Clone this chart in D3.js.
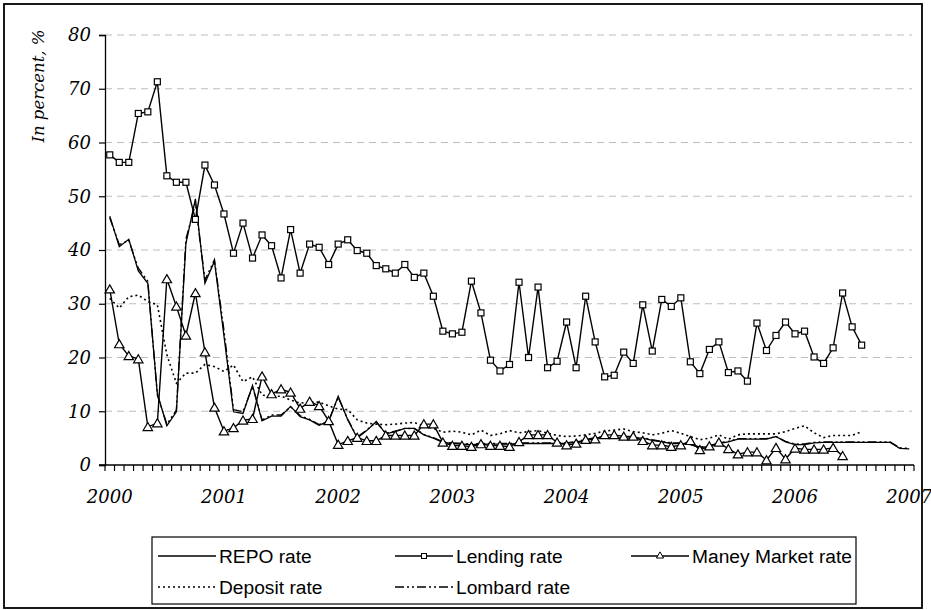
<!DOCTYPE html>
<html>
<head>
<meta charset="utf-8">
<script src="https://cdn.jsdelivr.net/npm/d3@7"></script>
<style>
  html, body { margin: 0; padding: 0; background: #fff; }
  svg { display: block; }
</style>
</head>
<body>
<svg id="chart" width="931" height="610"></svg>
<script>
// ---------------- DATA ----------------
const yearLabels = ["2000", "2001", "2002", "2003", "2004", "2005", "2006", "2007"];
const yTicks = [0, 10, 20, 30, 40, 50, 60, 70, 80];
// monthly categories Jan 2000 .. Jan 2007
const months = d3.timeMonth.range(new Date(2000, 0, 1), new Date(2007, 1, 1)).map(d3.timeFormat("%Y-%m"));

const repoRate = [46.3, 40.6, 42.0, 36.1, 33.8, 13.3, 7.3, 9.9, 41.2, 49.5, 33.8, 37.9,
  24.0, 9.9, 9.6, 14.8, 8.2, 9.1, 9.1, 10.9, 9.0, 8.4, 7.4, 8.1,
  12.8, 8.4, 5.0, 6.4, 8.1, 5.8, 6.2, 6.8, 6.8, 5.6, 5.0, 4.2,
  4.0, 3.9, 3.8, 3.9, 3.9, 3.9, 3.9, 4.0, 4.0, 4.0, 4.0, 4.0,
  4.0, 4.3, 4.6, 5.0, 5.0, 5.0, 5.0, 5.0, 5.0, 4.6, 4.3, 4.0,
  4.0, 3.8, 3.2, 3.5, 4.0, 4.3, 4.8, 4.8, 4.8, 4.8, 5.3, 4.3,
  3.8, 3.8, 4.1, 4.2, 4.2, 4.2, 4.2, 4.2, 4.2, 4.2, 4.2, 3.1,
  3.0];

const lendingRate = [57.7, 56.3, 56.3, 65.4, 65.7, 71.3, 53.8, 52.6, 52.6, 45.7, 55.8, 52.1,
  46.7, 39.4, 45.0, 38.5, 42.8, 40.8, 34.8, 43.8, 35.7, 41.1, 40.5, 37.3,
  41.1, 41.9, 39.9, 39.4, 37.1, 36.5, 35.7, 37.3, 34.9, 35.7, 31.4, 24.9,
  24.4, 24.7, 34.2, 28.3, 19.5, 17.5, 18.7, 34.0, 20.0, 33.1, 18.1, 19.3,
  26.6, 18.1, 31.4, 22.9, 16.4, 16.7, 21.0, 18.9, 29.8, 21.2, 30.8, 29.5,
  31.1, 19.2, 17.0, 21.5, 22.9, 17.2, 17.5, 15.6, 26.4, 21.3, 24.1, 26.6,
  24.4, 24.9, 20.1, 18.9, 21.8, 32.0, 25.7, 22.3];

const moneyMarketRate = [32.7, 22.5, 20.3, 19.7, 7.1, 7.8, 34.6, 29.5, 24.1, 32.0, 21.0, 10.7,
  6.3, 6.9, 8.3, 8.6, 16.5, 13.2, 14.1, 13.5, 10.5, 11.8, 11.0, 8.2,
  3.8, 4.5, 5.1, 4.5, 4.5, 5.5, 5.5, 5.5, 5.5, 7.6, 7.6, 4.2,
  3.6, 3.6, 3.4, 3.9, 3.6, 3.6, 3.4, 4.3, 5.6, 5.6, 5.6, 4.2,
  3.7, 4.0, 4.7, 4.8, 5.6, 5.6, 5.3, 5.3, 4.5, 3.7, 3.7, 3.4,
  3.7, 4.5, 2.8, 3.5, 4.2, 3.0, 2.0, 2.4, 2.4, 0.9, 3.2, 1.1,
  3.1, 2.9, 2.9, 2.9, 3.2, 1.7];

const depositRate = [31.0, 29.2, 31.3, 31.6, 30.4, 29.8, 20.5, 15.2, 17.1, 17.1, 18.7, 18.3,
  17.4, 18.6, 15.5, 16.4, 13.0, 12.8, 12.8, 12.1, 11.5, 11.7, 11.7, 11.0,
  10.4, 10.3, 8.4, 7.8, 7.6, 7.5, 7.6, 7.8, 7.9, 7.3, 6.8, 6.1,
  6.3, 6.1, 5.6, 6.5, 5.5, 5.8, 6.4, 6.0, 6.2, 6.4, 5.9, 5.5,
  5.3, 5.4, 5.6, 5.9, 6.3, 6.5, 6.7, 6.2, 6.0, 5.6, 5.9, 6.4,
  5.9, 5.3, 4.7, 5.0, 5.6, 4.8, 5.6, 5.8, 5.8, 5.8, 5.8, 6.2,
  6.8, 7.3, 6.0, 5.1, 5.5, 5.5, 5.5, 6.2];

const lombardRate = [46.0, 41.0, 41.8, 36.6, 34.2, 13.0, 7.6, 10.2, 42.0, 48.6, 34.4, 38.2,
  25.0, 10.3, 9.9, 14.6, 8.4, 9.3, 9.3, 10.8, 9.2, 8.5, 7.5, 8.2,
  12.6, 8.5, 5.2, 6.5, 8.0, 5.9, 6.3, 6.8, 6.8, 5.7, 5.1, 4.3,
  4.1, 4.0, 3.9, 4.0, 4.0, 4.0, 4.0, 4.1, 4.1, 4.1, 4.1, 4.1,
  4.1, 4.4, 4.7, 5.1, 5.1, 5.1, 5.1, 5.1, 5.1, 4.7, 4.4, 4.1,
  4.1, 3.9, 3.3, 3.6, 4.1, 4.4, 4.9, 4.9, 4.9, 4.9, 5.3, 4.4,
  3.9, 3.9, 4.2, 4.3, 4.3, 4.3, 4.3, 4.3, 4.3, 4.3, 4.3, 3.2,
  3.1];

const legendItems = ["REPO rate", "Lending rate", "Maney Market rate", "Deposit rate", "Lombard rate"];

// ---------------- DRAW ----------------
const svg = d3.select("#chart");
const plot = { left: 105, right: 914, top: 35, bottom: 465 };

const x = d3.scaleBand().domain(months).range([plot.left, plot.right]).paddingInner(0).paddingOuter(0);
const y = d3.scaleLinear().domain([0, 80]).range([plot.bottom, plot.top]);
const cx = i => x(months[i]) + x.bandwidth() / 2;

const serif = "'DejaVu Serif', serif";

// gridlines
svg.append("g").selectAll("line").data(yTicks.filter(t => t > 0)).join("line")
  .attr("x1", plot.left).attr("x2", plot.right - 2)
  .attr("y1", d => y(d)).attr("y2", d => y(d))
  .attr("stroke", "#bdbdbd").attr("stroke-width", 1.2).attr("stroke-dasharray", "7,5");

// y axis
const yAxis = svg.append("g").attr("transform", `translate(${plot.left},0)`)
  .call(d3.axisLeft(y).tickValues(yTicks).tickSize(6).tickPadding(8).tickFormat(d3.format("d")));
yAxis.select(".domain").attr("stroke", "#000").attr("stroke-width", 1.3);
yAxis.selectAll(".tick line").attr("stroke", "#000").attr("stroke-width", 1.2);
yAxis.selectAll(".tick text").attr("font-family", serif).attr("font-style", "italic")
  .attr("font-size", 18).attr("fill", "#000");

// x axis (ticks at category boundaries)
const xg = svg.append("g");
const boundaries = months.map(m => x(m)).concat([plot.right]);
xg.selectAll("line.tk").data(boundaries).join("line").attr("class", "tk")
  .attr("x1", d => d).attr("x2", d => d).attr("y1", plot.bottom).attr("y2", plot.bottom + 6)
  .attr("stroke", "#000").attr("stroke-width", 1.2);
xg.append("line").attr("x1", plot.left - 6).attr("x2", plot.right)
  .attr("y1", plot.bottom).attr("y2", plot.bottom).attr("stroke", "#000").attr("stroke-width", 1.3);
xg.selectAll("text").data(yearLabels).join("text")
  .attr("x", (d, i) => cx(i * 12))
  .attr("y", plot.bottom + 38)
  .attr("text-anchor", "middle")
  .attr("font-family", serif).attr("font-style", "italic").attr("font-size", 18)
  .text(d => d);

// y title
svg.append("text")
  .attr("transform", "translate(44,86) rotate(-90)")
  .attr("text-anchor", "middle")
  .attr("font-family", serif).attr("font-style", "italic").attr("font-size", 16.5)
  .text("In percent, %");

// lines
const lineGen = d3.line().x((d, i) => cx(i)).y(d => y(d));
const series = [
  { data: lombardRate, dash: "9,3,2,3,2,3", w: 1.4 },
  { data: depositRate, dash: "2,3", w: 1.6 },
  { data: repoRate, dash: null, w: 1.3 },
  { data: lendingRate, dash: null, w: 1.4 },
  { data: moneyMarketRate, dash: null, w: 1.4 }
];
series.forEach(s => {
  svg.append("path").datum(s.data).attr("d", lineGen)
    .attr("fill", "none").attr("stroke", "#000").attr("stroke-width", s.w)
    .attr("stroke-dasharray", s.dash);
});

// markers
const sq = 6;
svg.append("g").selectAll("rect").data(lendingRate).join("rect")
  .attr("x", (d, i) => cx(i) - sq / 2).attr("y", d => y(d) - sq / 2)
  .attr("width", sq).attr("height", sq)
  .attr("fill", "#fff").attr("stroke", "#000").attr("stroke-width", 1.2);
const tri = d3.symbol().type(d3.symbolTriangle).size(38);
svg.append("g").selectAll("path").data(moneyMarketRate).join("path")
  .attr("d", tri)
  .attr("transform", (d, i) => `translate(${cx(i)},${y(d) + 1})`)
  .attr("fill", "#fff").attr("stroke", "#000").attr("stroke-width", 1.2);

// legend
const lg = svg.append("g");
lg.append("rect").attr("x", 152).attr("y", 537).attr("width", 704).attr("height", 67)
  .attr("fill", "#fff").attr("stroke", "#000").attr("stroke-width", 1.2);
const legPos = [
  { x: 158, y: 556 }, { x: 395, y: 556 }, { x: 631, y: 556 },
  { x: 158, y: 587 }, { x: 395, y: 587 }
];
const legDash = [null, null, null, "2,3", "9,3,2,3,2,3"];
const legLen = 58;
legendItems.forEach((name, i) => {
  const p = legPos[i];
  lg.append("line").attr("x1", p.x).attr("x2", p.x + legLen).attr("y1", p.y).attr("y2", p.y)
    .attr("stroke", "#000").attr("stroke-width", i === 3 ? 1.6 : 1.3).attr("stroke-dasharray", legDash[i]);
  if (i === 1) {
    lg.append("rect").attr("x", p.x + legLen / 2 - 2.5).attr("y", p.y - 2.5).attr("width", 5).attr("height", 5)
      .attr("fill", "#fff").attr("stroke", "#000").attr("stroke-width", 1);
  }
  if (i === 2) {
    lg.append("path").attr("d", d3.symbol().type(d3.symbolTriangle).size(22))
      .attr("transform", `translate(${p.x + legLen / 2},${p.y})`)
      .attr("fill", "#fff").attr("stroke", "#000").attr("stroke-width", 1);
  }
  lg.append("text").attr("x", p.x + legLen + 3).attr("y", p.y + 7)
    .attr("font-family", "'Liberation Sans', Arial, sans-serif").attr("font-size", 19.2)
    .text(name);
});

// outer frame
svg.append("rect").attr("x", 4).attr("y", 4).attr("width", 918).attr("height", 604)
  .attr("fill", "none").attr("stroke", "#000").attr("stroke-width", 1.8);
</script>
</body>
</html>
